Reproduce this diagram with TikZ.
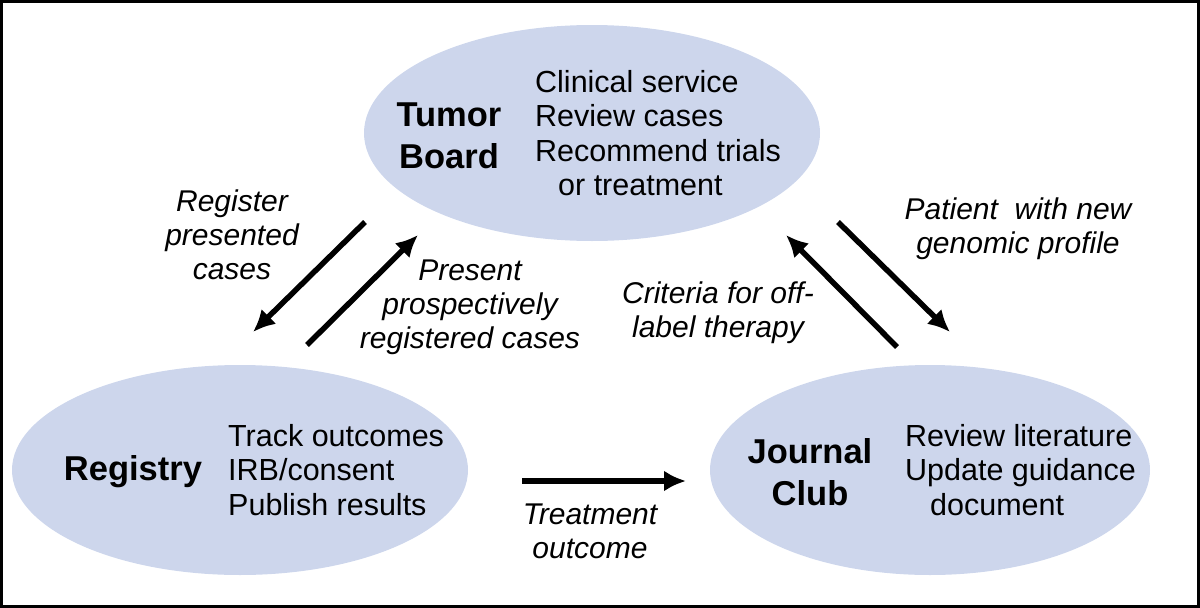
\documentclass[tikz,border=0pt]{standalone}
\usepackage{fontspec}
\setmainfont{Liberation Sans}
\usetikzlibrary{arrows.meta}
\begin{document}
\begin{tikzpicture}[x=1pt,y=-1pt,
  bigt/.style={font=\fontsize{34.5}{42}\selectfont\bfseries,align=center,inner sep=0},
  lst/.style={font=\fontsize{30.5}{34.5}\selectfont,align=left,anchor=north west,inner sep=0},
  lab/.style={font=\fontsize{30}{34}\selectfont\itshape,align=center,inner sep=0},
  arr/.style={line width=5.5pt,-{Latex[length=22pt,width=21pt]}}]
\definecolor{ellfill}{HTML}{CDD6EC}
\useasboundingbox (0,0) rectangle (1200,608);
\draw[line width=3pt] (1.5,1.5) rectangle (1198.5,606.5);
\fill[ellfill] (592,133) ellipse [x radius=228, y radius=108];
\fill[ellfill] (240,470) ellipse [x radius=228, y radius=105];
\fill[ellfill] (930,470) ellipse [x radius=220, y radius=105];
\node[bigt] (tb) at (449,136) {Tumor\\Board};
\node[lst] (tbl) at (535,70) {Clinical service\\Review cases\\Recommend trials\\\hspace{23pt}or treatment};
\node[bigt] (rg) at (133,472) {Registry};
\node[lst] (rgl) at (228,424) {Track outcomes\\IRB/consent\\Publish results};
\node[bigt] (jc) at (810,472) {Journal\\Club};
\node[lst] (jcl) at (905,424) {Review literature\\Update guidance\\\hspace{25pt}document};
\node[lab] (l1) at (232,235) {Register\\presented\\cases};
\node[lab] (l2) at (470,307) {Present\\prospectively\\registered cases};
\node[lab] (l3) at (718,313) {Criteria for off-\\label therapy};
\node[lab] (l4) at (1018,229) {Patient\ \ with new\\genomic profile};
\node[lab] (l5) at (590,531) {Treatment\\outcome};
\coordinate (a1s) at (365,222); \coordinate (a1e) at (253,332);
\coordinate (a2s) at (307,345); \coordinate (a2e) at (418,235);
\coordinate (a3s) at (897,347); \coordinate (a3e) at (786,235);
\coordinate (a4s) at (838,222); \coordinate (a4e) at (950,332);
\coordinate (a5s) at (522,481); \coordinate (a5e) at (686,481);
\draw[arr] (a1s) -- (a1e);
\draw[arr] (a2s) -- (a2e);
\draw[arr] (a3s) -- (a3e);
\draw[arr] (a4s) -- (a4e);
\draw[arr] (a5s) -- (a5e);
\end{tikzpicture}
\end{document}
